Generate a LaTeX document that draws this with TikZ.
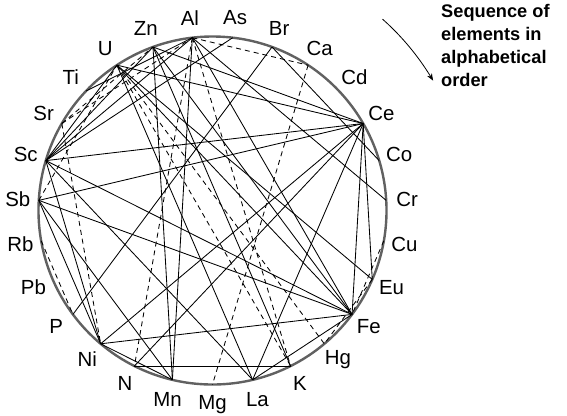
\documentclass[tikz,border=0pt]{standalone}
\usepackage{fontspec}
\setmainfont{Liberation Sans}
\usetikzlibrary{arrows.meta}
\begin{document}
\begin{tikzpicture}[x=1bp,y=-1bp,
  poschord/.style={line width=0.85bp, black},
  negchord/.style={line width=0.85bp, black, dash pattern=on 5bp off 4bp},
  lab/.style={font=\fontsize{20.5}{22}\selectfont, inner sep=0pt},
  rim/.style={line width=2.4bp, black!62}]
\useasboundingbox (0,0) rectangle (567,415);
\def\cx{212.5}\def\cy{210.5}
\foreach \n [count=\i from 0] in {Al,As,Br,Ca,Cd,Ce,Co,Cr,Cu,Eu,Fe,Hg,K,La,Mg,Mn,N,Ni,P,Pb,Rb,Sb,Sc,Sr,Ti,U,Zn} {
  \pgfmathsetmacro\t{-6.6667+13.3333*\i}
  \coordinate (\n) at ({\cx+174*sin(\t)},{\cy-174*cos(\t)});
  \node[lab] (l\n) at ({\cx+195*sin(\t)},{\cy-194*cos(\t)}) {\n};
}
\node[rim, circle, draw, minimum size=348bp, inner sep=0pt] (ring) at (\cx,\cy) {};
% positive (solid)
\foreach \a/\b in {Al/Mn, Zn/Mn, Br/P, Ni/Ce, N/Ce, Ni/Fe, Ni/Mn, N/K, Sc/Ce, Sb/Ce, U/Ce, Zn/Ce,
  Sc/Fe, Sb/Fe, Sc/Al, Sc/U, Sc/Ni, Sb/Ni, Sb/Mn, Sc/La, U/La, La/Ce, La/Fe, Al/Cr, Br/Co,
  Ce/Eu, Ce/Fe, U/Fe, Zn/Fe, Al/Fe, U/Eu, Zn/K, As/Sc, Al/Ti, Sc/Zn}
  \draw[poschord] (\a) -- (\b);
% negative (dashed)
\foreach \a/\b in {Al/Ca, Ca/Mg, Al/N, Al/K, U/Hg, U/K, Sr/Ni, Rb/P, Cu/Fe, Eu/Hg, Sr/Zn, Sb/U, Sr/Al}
  \draw[negchord] (\a) -- (\b);
\node[anchor=north west, align=left, inner sep=0pt, font=\bfseries\fontsize{18.3}{23}\selectfont] (title) at (441,4)
  {Sequence of\\elements in\\alphabetical\\order};
\draw[line width=0.8bp, -{Stealth[length=7bp,width=5.5bp]}] plot[domain=41.6:59.5, samples=25] ({\cx+256*sin(\x)},{\cy-256*cos(\x)});
\end{tikzpicture}
\end{document}
